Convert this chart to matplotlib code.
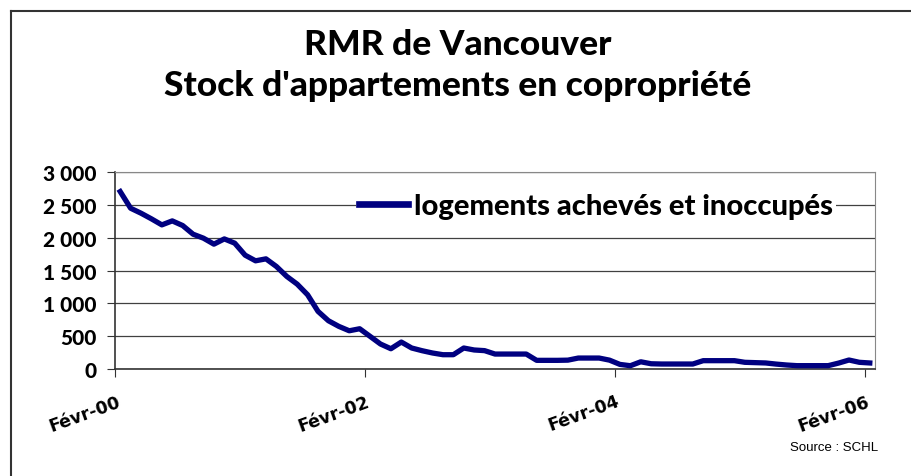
import numpy as np
import matplotlib
matplotlib.use("Agg")
import matplotlib.pyplot as plt
from matplotlib.lines import Line2D

# monthly stock, Feb-2000 .. Feb-2006 (73 months)
stock = [2706, 2452, 2376, 2290, 2198, 2259, 2188, 2056, 1995, 1904,
         1984, 1919, 1736, 1650, 1680, 1564, 1412, 1294, 1132, 879,
         736, 650, 583, 614, 498, 381, 309, 411, 320, 279,
         244, 218, 218, 320, 290, 280, 228, 228, 228, 228,
         132, 132, 132, 135, 167, 167, 167, 135, 70, 50,
         110, 80, 76, 76, 76, 76, 127, 127, 127, 127,
         102, 97, 92, 75, 61, 51, 51, 51, 51, 90,
         137, 102, 92]
tick_labels = ["Févr-00", "Févr-02", "Févr-04", "Févr-06"]
y_ticks = [0, 500, 1000, 1500, 2000, 2500, 3000]
y_labels = ["0", "500", "1 000", "1 500", "2 000", "2 500", "3 000"]
series_name = "logements achevés et inoccupés"

TFONT = "Lato"

fig = plt.figure(figsize=(9.11, 4.77), dpi=100)
# chart frame (only left/top visible in the crop)
fig.add_artist(Line2D([11/911, 11/911], [0, 1 - 12/477], color="#333333", lw=1.5))
fig.add_artist(Line2D([11/911, 1], [1 - 12/477, 1 - 12/477], color="#333333", lw=1.5))

ax = fig.add_axes([115/911, 1 - 370/477, 760/911, 196.7/477])
x = np.arange(len(stock))
ax.plot(x, stock, color="#000080", lw=3.8, solid_joinstyle="round", label=series_name, zorder=3)

ax.set_xlim(-0.5, len(stock) - 0.5)
ax.set_ylim(0, 3000)
ax.set_yticks(y_ticks)
ax.set_yticklabels(y_labels, fontfamily=TFONT, fontweight="black", fontsize=15)
ax.yaxis.grid(True, color="#404040", lw=0.9)
ax.set_axisbelow(True)

xt = [-0.5, 23.5, 47.5, 71.5]
ax.set_xticks(xt)
ax.set_xticklabels([])
for pos, lab in zip(xt, tick_labels):
    ax.annotate(lab, xy=(pos, 0), xycoords=("data", "axes fraction"),
                xytext=(6, -36), textcoords="offset pixels",
                ha="right", va="baseline", rotation=20, rotation_mode="anchor",
                fontfamily="DejaVu Sans", fontweight="bold", fontsize=12.5)
ax.tick_params(axis="both", direction="out", length=6, color="#333333")
ax.tick_params(axis="y", pad=7)
for s in ["left", "bottom"]:
    ax.spines[s].set_color("#333333")
    ax.spines[s].set_linewidth(1.2)
for s in ["top", "right"]:
    ax.spines[s].set_color("#888888")

leg = ax.legend(loc="center left", bbox_to_anchor=(341/911, 1 - 207/477),
                bbox_transform=fig.transFigure, frameon=True, fancybox=False,
                edgecolor="none", facecolor="white", framealpha=1,
                handlelength=1.7, handletextpad=0.2, borderpad=0.1,
                prop={"family": TFONT, "weight": "black", "size": 21})
leg.get_lines()[0].set_linewidth(4.8)

fig.text(458/911, 1 - 45/477, "RMR de Vancouver", ha="center", va="center",
         fontfamily=TFONT, fontweight="black", fontsize=25.5)
fig.text(458/911, 1 - 86/477, "Stock d'appartements en copropriété", ha="center", va="center",
         fontfamily=TFONT, fontweight="black", fontsize=25.5)
fig.text(878/911, 1 - 448/477, "Source : SCHL", ha="right", va="center",
         fontfamily="Liberation Sans", fontsize=9.5)

fig.savefig("out.png", dpi=100)
